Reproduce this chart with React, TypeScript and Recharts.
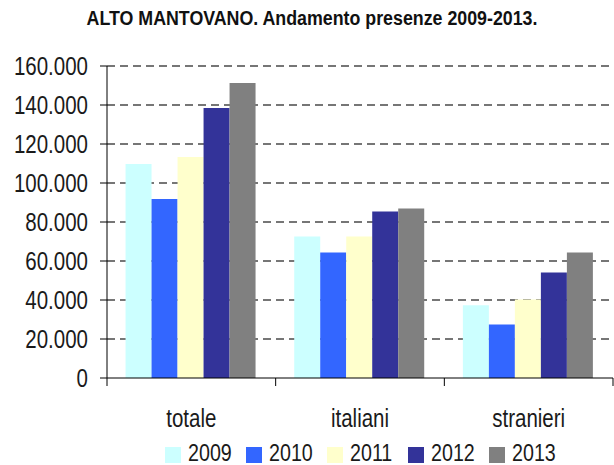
import React from "react";
import { BarChart, Bar, XAxis, YAxis, CartesianGrid } from "recharts";

const categories = ["totale", "italiani", "stranieri"];
const years = ["2009", "2010", "2011", "2012", "2013"];
const colors = ["#CCFFFF", "#3366FF", "#FFFFCC", "#333399", "#808080"];
const v2009 = [109700, 72600, 37300];
const v2010 = [91800, 64400, 27400];
const v2011 = [113300, 72600, 40300];
const v2012 = [138500, 85400, 54100];
const v2013 = [151300, 86900, 64400];
const yTicks = [0, 20000, 40000, 60000, 80000, 100000, 120000, 140000, 160000];
const title = "ALTO MANTOVANO. Andamento presenze 2009-2013.";

const series = [v2009, v2010, v2011, v2012, v2013];
const data = categories.map((c, i) => {
  const row: any = { name: c };
  years.forEach((y, j) => (row[y] = series[j][i]));
  return row;
});

const FONT = "'Liberation Sans', Arial, sans-serif";
const NARROW = 0.82;
const TXT = "#1a1a1a";

const fmt = (v: number) => String(v).replace(/\B(?=(\d{3})+(?!\d))/g, ".");

const YTick = (props: any) => {
  const { x, y, payload } = props;
  return (
    <text
      transform={`translate(${x},${y}) scale(${NARROW},1)`}
      x={0}
      y={0}
      dy={9}
      textAnchor="end"
      fontFamily={FONT}
      fontSize={25}
      fill={TXT}
    >
      {fmt(payload.value)}
    </text>
  );
};

const XTick = (props: any) => {
  const { x, y, payload, index, visibleTicksCount } = props;
  const off = payload.offset || 0;
  const ay = y - 8;
  return (
    <g>
      <line x1={x - off} x2={x - off} y1={ay} y2={ay + 8} stroke="#000" />
      {index === (visibleTicksCount ?? 3) - 1 && (
        <line x1={x + off} x2={x + off} y1={ay} y2={ay + 8} stroke="#000" />
      )}
      <text
        transform={`translate(${x},${ay + 49}) scale(${NARROW},1)`}
        textAnchor="middle"
        fontFamily={FONT}
        fontSize={25}
        fill={TXT}
      >
        {payload.value}
      </text>
    </g>
  );
};

const Overlay = () => {
  const pitch = 81;
  const startX = 165;
  return (
    <svg
      width={614}
      height={465}
      style={{ position: "absolute", left: 0, top: 0, pointerEvents: "none" }}
    >
      <text
        transform={`translate(312,25) scale(0.89,1)`}
        textAnchor="middle"
        fontFamily={FONT}
        fontWeight="bold"
        fontSize={20}
        fill="#111"
      >
        {title}
      </text>
      {years.map((y, i) => (
        <g key={y}>
          <rect x={startX + i * pitch} y={447} width={16} height={16} fill={colors[i]} />
          <text
            transform={`translate(${startX + i * pitch + 23},461) scale(${NARROW},1)`}
            fontFamily={FONT}
            fontSize={24}
            fill={TXT}
          >
            {y}
          </text>
        </g>
      ))}
    </svg>
  );
};

export default function App() {
  return (
    <div style={{ position: "absolute", left: 0, top: 0, width: 614, height: 465, background: "#fff" }}>
      <BarChart
        width={614}
        height={465}
        data={data}
        margin={{ top: 66, right: 1, bottom: 47, left: 0 }}
        barGap={0}
        barCategoryGap="11%"
      >
        <CartesianGrid
          vertical={false}
          stroke="#4a4a4a"
          strokeWidth={1.5}
          strokeDasharray="8 5"
          horizontalValues={yTicks.filter((t) => t > 0)}
        />
        <XAxis
          dataKey="name"
          axisLine={{ stroke: "#000" }}
          tickLine={false}
          tick={<XTick />}
          height={40}
          interval={0}
        />
        <YAxis
          width={107}
          domain={[0, 160000]}
          ticks={yTicks}
          axisLine={{ stroke: "#000" }}
          tickLine={{ stroke: "#000" }}
          tickSize={7}
          tickMargin={12}
          tick={<YTick />}
          interval={0}
        />
        {years.map((y, i) => (
          <Bar key={y} dataKey={y} fill={colors[i]} isAnimationActive={false} />
        ))}
      </BarChart>
      <Overlay />
    </div>
  );
}
